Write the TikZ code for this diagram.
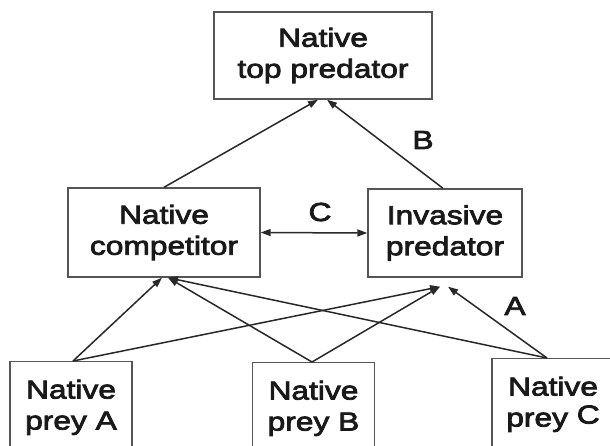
\documentclass[tikz,border=0pt]{standalone}
\usepackage{fontspec}
\setmainfont{Liberation Sans}[FakeStretch=1.22,FakeBold=3]
\usetikzlibrary{arrows.meta}
\definecolor{boxgray}{RGB}{85,85,85}
\definecolor{linecol}{RGB}{40,40,40}
\definecolor{textcol}{RGB}{25,25,25}
\begin{document}
\begin{tikzpicture}[x=1pt,y=-1pt,
  box/.style={draw=boxgray, line width=1.4pt, fill=white, align=center, inner sep=0pt, text=textcol, font=\fontsize{26}{31}\selectfont},
  preybox/.style={box, anchor=north, inner ysep=18pt, minimum width=122pt},
  lbl/.style={text=textcol, font=\fontsize{26}{31}\selectfont, inner sep=0pt},
  arr/.style={-{Triangle[length=10pt,width=7pt]}, line width=1.5pt, draw=linecol}]
\useasboundingbox (0,0) rectangle (610,445);
\clip (0,0) rectangle (610,445);
\fill[white] (0,0) rectangle (610,445);
% boxes
\node[box, minimum width=218pt, minimum height=87pt] (top) at (323,55.5) {Native\\top predator};
\node[box, minimum width=192pt, minimum height=89pt] (comp) at (164,232.5) {Native\\competitor};
\node[box, minimum width=154pt, minimum height=88pt] (inv) at (445,233) {Invasive\\predator};
\node[preybox] (preyA) at (71,361) {Native\\prey A};
\node[preybox] (preyB) at (313.5,362) {Native\\prey B};
\node[preybox] (preyC) at (553,358) {Native\\prey \raisebox{3pt}{C}};
% connector end points
\coordinate (pa) at ([xshift=2pt]preyA.north);
\coordinate (pb) at ([xshift=-1.5pt]preyB.north);
\coordinate (pc) at ([xshift=-6pt]preyC.north);
\coordinate (c1) at ([xshift=-2pt]comp.south);
\coordinate (c2) at ([xshift=4pt]comp.south);
\coordinate (i1) at ([xshift=-5pt,yshift=-9pt]inv.south);
\coordinate (i2) at ([xshift=3pt,yshift=-9pt]inv.south);
\coordinate (t1) at ([xshift=-5pt]top.south);
\coordinate (t2) at ([xshift=4pt]top.south);
\coordinate (it) at ([xshift=-2pt]inv.north);
% connectors
\draw[arr] (comp.north) -- (t1);
\draw[arr] (it) -- (t2);
\draw[arr, {Triangle[length=10pt,width=7pt]}-{Triangle[length=10pt,width=7pt]}] (comp.east) -- (inv.west);
\draw[arr] (pa) -- (c1);
\draw[arr] (pa) -- (i1);
\draw[arr] (pb) -- (c2);
\draw[arr] (pb) -- (i1);
\draw[arr] (pc) -- (c2);
\draw[arr] (pc) -- (i2);
% labels
\node[lbl] (lc) at (320,212) {C};
\node[lbl] (lb) at (423,140) {B};
\node[lbl] (la) at (515,306) {A};
\end{tikzpicture}
\end{document}
